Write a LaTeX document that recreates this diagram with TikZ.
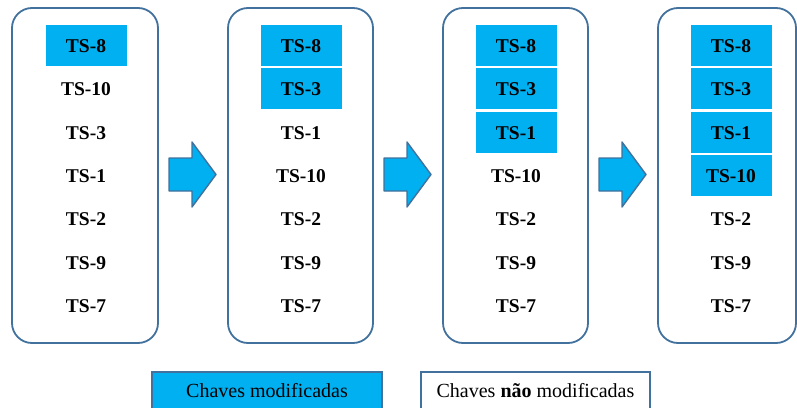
\documentclass[tikz,border=0pt]{standalone}
\usepackage{fontspec}
\setmainfont{Liberation Serif}
\definecolor{keyblue}{HTML}{00B0F0}
\definecolor{boxline}{HTML}{41719C}

\begin{document}
\begin{tikzpicture}[x=1pt,y=1pt,yscale=-1,
  colbox/.style={draw=boxline, line width=1.8pt, rounded corners=20pt},
  keyfill/.style={fill=keyblue},
  keytext/.style={font=\bfseries\fontsize{19.5}{21}\selectfont},
  moveshape/.style={fill=keyblue, draw=boxline, line width=1.4pt, line join=round},
  legbox/.style={draw=boxline, line width=1.2pt},
  legtext/.style={font=\fontsize{20}{22}\selectfont}]
%set diagram left start at 0, and has height of 407
\useasboundingbox (0,0) rectangle (797,407);
\clip (0,0) rectangle (797,407);

%Shape: Rounded Rect
\draw [colbox] (12,8) rectangle (158,343);
\draw [colbox] (228,8) rectangle (373,343);
\draw [colbox] (443,8) rectangle (588,343);
\draw [colbox] (658,8) rectangle (796,343);

%Shape: Rectangle (modified keys)
\fill [keyfill] (45.5,25) rectangle (126.5,66);
\fill [keyfill] (260.5,25) rectangle (341.5,66);
\fill [keyfill] (260.5,68) rectangle (341.5,109);
\fill [keyfill] (475.5,25) rectangle (556.5,66);
\fill [keyfill] (475.5,68) rectangle (556.5,109);
\fill [keyfill] (475.5,111.5) rectangle (556.5,152.5);
\fill [keyfill] (690.5,25) rectangle (771.5,66);
\fill [keyfill] (690.5,68) rectangle (771.5,109);
\fill [keyfill] (690.5,111.5) rectangle (771.5,152.5);
\fill [keyfill] (690.5,154.5) rectangle (771.5,196);

%Shape: Right Arrow
\draw [moveshape] (169,158) -- (192,158) -- (192,142) -- (216,174.5) -- (192,207) -- (192,191) -- (169,191) -- cycle;
\draw [moveshape] (384,158) -- (407,158) -- (407,142) -- (431,174.5) -- (407,207) -- (407,191) -- (384,191) -- cycle;
\draw [moveshape] (599,158) -- (622,158) -- (622,142) -- (646,174.5) -- (622,207) -- (622,191) -- (599,191) -- cycle;

% Text Node
\node [keytext] (a1) at (86,46) {TS-8};
\node [keytext] (a2) at (86,89.5) {TS-10};
\node [keytext] (a3) at (86,133) {TS-3};
\node [keytext] (a4) at (86,176) {TS-1};
\node [keytext] (a5) at (86,219.5) {TS-2};
\node [keytext] (a6) at (86,263) {TS-9};
\node [keytext] (a7) at (86,306) {TS-7};
% Text Node
\node [keytext] (b1) at (301,46) {TS-8};
\node [keytext] (b2) at (301,89.5) {TS-3};
\node [keytext] (b3) at (301,133) {TS-1};
\node [keytext] (b4) at (301,176) {TS-10};
\node [keytext] (b5) at (301,219.5) {TS-2};
\node [keytext] (b6) at (301,263) {TS-9};
\node [keytext] (b7) at (301,306) {TS-7};
% Text Node
\node [keytext] (c1) at (516,46) {TS-8};
\node [keytext] (c2) at (516,89.5) {TS-3};
\node [keytext] (c3) at (516,133) {TS-1};
\node [keytext] (c4) at (516,176) {TS-10};
\node [keytext] (c5) at (516,219.5) {TS-2};
\node [keytext] (c6) at (516,263) {TS-9};
\node [keytext] (c7) at (516,306) {TS-7};
% Text Node
\node [keytext] (d1) at (731,46) {TS-8};
\node [keytext] (d2) at (731,89.5) {TS-3};
\node [keytext] (d3) at (731,133) {TS-1};
\node [keytext] (d4) at (731,176) {TS-10};
\node [keytext] (d5) at (731,219.5) {TS-2};
\node [keytext] (d6) at (731,263) {TS-9};
\node [keytext] (d7) at (731,306) {TS-7};

%Shape: Legend
\draw [legbox, fill=keyblue] (152,372) rectangle (382,420);
\draw [legbox] (421,372) rectangle (650,420);
% Text Node
\node [legtext] (legmod) at (267,391) {Chaves modificadas};
\node [legtext] (legnot) at (535.5,391) {Chaves \textbf{não} modificadas};

\end{tikzpicture}
\end{document}
